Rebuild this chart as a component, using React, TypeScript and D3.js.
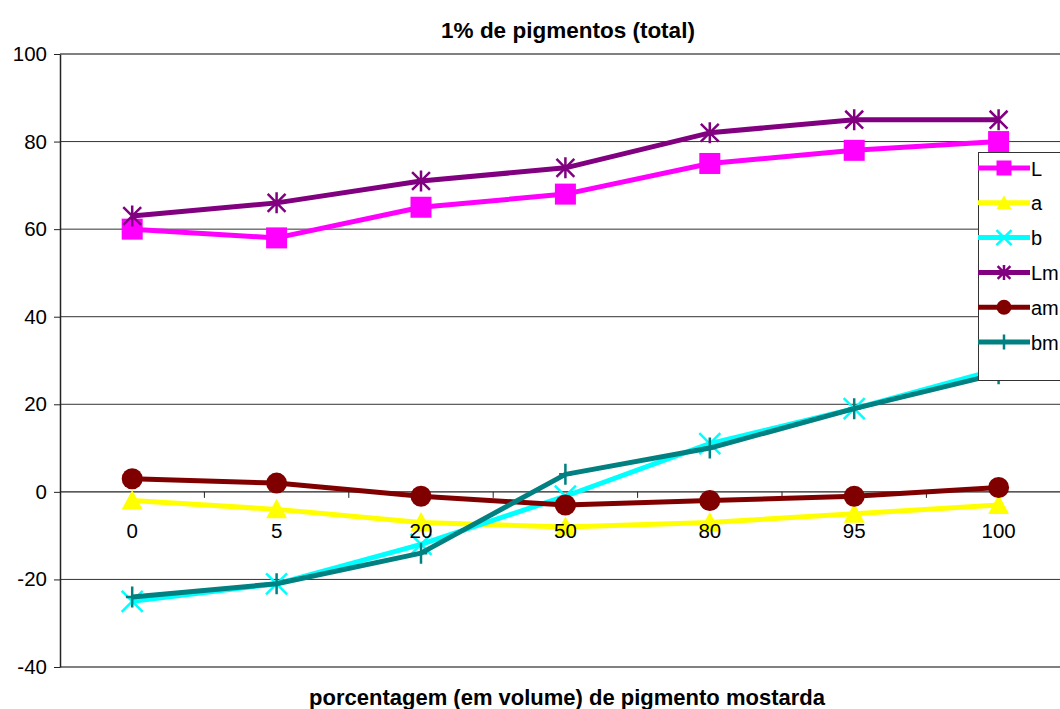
import * as d3 from "d3";
import { useEffect, useRef } from "react";

const categories = ["0", "5", "20", "50", "80", "95", "100"];
const seriesNames = ["L", "a", "b", "Lm", "am", "bm"];
const valuesL = [60, 58, 65, 68, 75, 78, 80];
const valuesA = [-2, -4, -7, -8, -7, -5, -3];
const valuesB = [-25, -21, -12, -1, 11, 19, 28];
const valuesLm = [63, 66, 71, 74, 82, 85, 85];
const valuesAm = [3, 2, -1, -3, -2, -1, 1];
const valuesBm = [-24, -21, -14, 4, 10, 19, 27];
const yTicks = [-40, -20, 0, 20, 40, 60, 80, 100];

const colors = ["#FF00FF", "#FFFF00", "#00FFFF", "#800080", "#800000", "#008080"];
const markers = ["square", "triangle", "x", "star", "circle", "plus"];

const font = "Liberation Sans, Arial, sans-serif";

export default function App() {
  const ref = useRef<SVGSVGElement>(null);

  useEffect(() => {
    const svg = d3.select(ref.current);
    svg.selectAll("*").remove();

    const width = 1060;
    const height = 709;
    const left = 60;
    const top = 54;
    const bottom = 667;
    const band = 144.4;
    const right = left + band * categories.length;

    const x = d3.scaleBand().domain(categories).range([left, right]).paddingInner(0).paddingOuter(0);
    const cx = (c: string) => (x(c) as number) + x.bandwidth() / 2;
    const y = d3.scaleLinear().domain([-40, 100]).range([bottom, top]);

    svg.attr("width", width).attr("height", height);
    svg.append("rect").attr("width", width).attr("height", height).attr("fill", "#fff");

    // gridlines
    svg
      .append("g")
      .selectAll("line")
      .data(yTicks.filter((t) => t !== 0 && t !== 100 && t !== -40))
      .join("line")
      .attr("x1", left)
      .attr("x2", right)
      .attr("y1", (d) => y(d))
      .attr("y2", (d) => y(d))
      .attr("stroke", "#333")
      .attr("stroke-width", 1);

    // top and bottom borders
    svg.append("line").attr("x1", left).attr("x2", right).attr("y1", y(100)).attr("y2", y(100)).attr("stroke", "#808080").attr("stroke-width", 2);
    svg.append("line").attr("x1", left).attr("x2", right).attr("y1", y(-40)).attr("y2", y(-40)).attr("stroke", "#808080").attr("stroke-width", 2);

    // y axis
    const yAxis = svg
      .append("g")
      .attr("transform", `translate(${left},0)`)
      .call(
        d3
          .axisLeft(y)
          .tickValues(yTicks)
          .tickFormat((d: any) => String(d))
          .tickSize(6)
          .tickSizeOuter(0)
          .tickPadding(7),
      );
    yAxis.select(".domain").attr("stroke", "#222").attr("stroke-width", 1.5);
    yAxis.selectAll(".tick line").attr("stroke", "#222");
    yAxis.selectAll("text").attr("font-family", font).attr("font-size", 20.5).attr("fill", "#000");

    // x axis at y=0
    const y0 = y(0);
    svg.append("line").attr("x1", left).attr("x2", right).attr("y1", y0).attr("y2", y0).attr("stroke", "#222").attr("stroke-width", 1.2);
    svg
      .append("g")
      .selectAll("line")
      .data(categories.slice(1))
      .join("line")
      .attr("x1", (d) => x(d) as number)
      .attr("x2", (d) => x(d) as number)
      .attr("y1", y0)
      .attr("y2", y0 + 6)
      .attr("stroke", "#222");

    const allValues = [valuesL, valuesA, valuesB, valuesLm, valuesAm, valuesBm];

    const drawMarker = (g: any, kind: string, px: number, py: number, color: string, s: number) => {
      const h = s / 2;
      if (kind === "square") {
        g.append("rect").attr("x", px - h).attr("y", py - h).attr("width", s).attr("height", s).attr("fill", color);
      } else if (kind === "triangle") {
        g.append("path").attr("d", `M${px},${py - h}L${px + h},${py + h * 0.85}L${px - h},${py + h * 0.85}Z`).attr("fill", color);
      } else if (kind === "circle") {
        g.append("circle").attr("cx", px).attr("cy", py).attr("r", h).attr("fill", color);
      } else if (kind === "x") {
        g.append("path").attr("d", `M${px - h},${py - h}L${px + h},${py + h}M${px - h},${py + h}L${px + h},${py - h}`).attr("stroke", color).attr("stroke-width", 2.5);
      } else if (kind === "star") {
        g.append("path")
          .attr("d", `M${px - h * 0.85},${py - h * 0.85}L${px + h * 0.85},${py + h * 0.85}M${px - h * 0.85},${py + h * 0.85}L${px + h * 0.85},${py - h * 0.85}M${px},${py - h}L${px},${py + h}`)
          .attr("stroke", color)
          .attr("stroke-width", 2.5);
      } else if (kind === "plus") {
        g.append("path").attr("d", `M${px},${py - h}L${px},${py + h}M${px - h * 0.6},${py}L${px + h * 0.6},${py}`).attr("stroke", color).attr("stroke-width", 2.5);
      }
    };

    const line = d3
      .line<number>()
      .x((_, i) => cx(categories[i]))
      .y((d) => y(d));

    allValues.forEach((vals, si) => {
      const g = svg.append("g");
      g.append("path")
        .attr("d", line(vals))
        .attr("fill", "none")
        .attr("stroke", colors[si])
        .attr("stroke-width", 5)
        .attr("stroke-linejoin", "round");
      vals.forEach((v, i) => drawMarker(g, markers[si], cx(categories[i]), y(v), colors[si], 21));
    });

    // x tick labels
    svg
      .append("g")
      .selectAll("text")
      .data(categories)
      .join("text")
      .attr("x", (d) => cx(d))
      .attr("y", y0 + 46)
      .attr("text-anchor", "middle")
      .attr("font-family", font)
      .attr("font-size", 20.5)
      .attr("fill", "#000")
      .text((d) => d);

    // title
    svg
      .append("text")
      .attr("x", 568)
      .attr("y", 38)
      .attr("text-anchor", "middle")
      .attr("font-family", font)
      .attr("font-size", 22.5)
      .attr("font-weight", "bold")
      .text("1% de pigmentos (total)");

    svg
      .append("text")
      .attr("x", 567)
      .attr("y", 705)
      .attr("text-anchor", "middle")
      .attr("font-family", font)
      .attr("font-size", 22)
      .attr("font-weight", "bold")
      .text("porcentagem (em volume) de pigmento mostarda");

    // legend
    const lg = svg.append("g");
    lg.append("rect").attr("x", 978.5).attr("y", 152.5).attr("width", 100).attr("height", 228).attr("fill", "#fff").attr("stroke", "#333").attr("stroke-width", 1);
    seriesNames.forEach((name, i) => {
      const ly = 168 + i * 34.8;
      lg.append("line").attr("x1", 978).attr("x2", 1030).attr("y1", ly).attr("y2", ly).attr("stroke", colors[i]).attr("stroke-width", 5);
      drawMarker(lg, markers[i], 1004, ly, colors[i], 15);
      lg.append("text")
        .attr("x", 1031)
        .attr("y", ly + 7.5)
        .attr("font-family", font)
        .attr("font-size", 20)
        .attr("fill", "#000")
        .text(name);
    });
  }, []);

  return <svg ref={ref} style={{ position: "absolute", left: 0, top: 0 }} />;
}
